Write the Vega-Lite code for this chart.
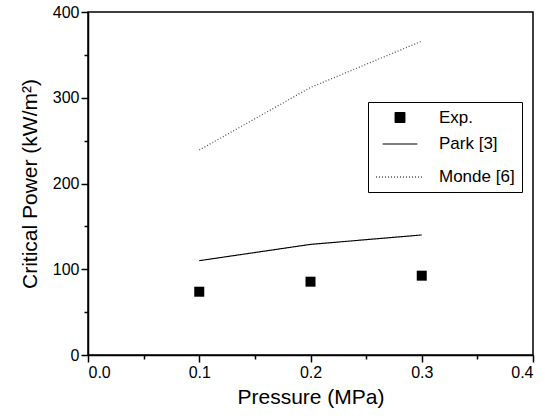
{
  "$schema": "https://vega.github.io/schema/vega-lite/v6.json",
  "width": 445,
  "height": 343,
  "autosize": {"type": "none"},
  "padding": {"left": 88, "top": 12, "right": 12, "bottom": 63},
  "background": "white",
  "config": {
    "view": {"stroke": "black", "strokeWidth": 1.5},
    "font": "Liberation Sans",
    "axis": {"labelFont": "Liberation Sans", "titleFont": "Liberation Sans", "labelColor": "black", "titleColor": "black", "tickColor": "black", "domainColor": "black", "grid": false, "titleFontWeight": "normal", "labelFontSize": 16, "titleFontSize": 21},
    "legend": {
      "orient": "none", "legendX": 280, "legendY": 90,
      "strokeColor": "black", "fillColor": "white",
      "padding": 7, "rowPadding": -7,
      "labelFontSize": 17, "labelFont": "Liberation Sans", "labelColor": "black",
      "labelOffset": 14
    }
  },
  "datasets": {
    "all": [
      {"p": 0.1, "v": 73.8, "s": "Exp."},
      {"p": 0.2, "v": 85.5, "s": "Exp."},
      {"p": 0.3, "v": 92.5, "s": "Exp."},
      {"p": 0.1, "v": 110, "s": "Park [3]"},
      {"p": 0.2, "v": 129, "s": "Park [3]"},
      {"p": 0.3, "v": 140, "s": "Park [3]"},
      {"p": 0.1, "v": 239, "s": "Monde [6]"},
      {"p": 0.2, "v": 312, "s": "Monde [6]"},
      {"p": 0.3, "v": 366, "s": "Monde [6]"}
    ]
  },
  "data": {"name": "all"},
  "encoding": {
    "x": {
      "field": "p", "type": "quantitative",
      "scale": {"domain": [0, 0.4], "nice": false},
      "axis": {
        "title": "Pressure (MPa)",
        "values": [0, 0.05, 0.1, 0.15, 0.2, 0.25, 0.3, 0.35, 0.4],
        "labelExpr": "abs(datum.value*10 - round(datum.value*10)) < 0.01 ? format(datum.value, '.1f') : ''",
        "tickSize": {"condition": {"test": "abs(datum.value*10 - round(datum.value*10)) < 0.01", "value": 7}, "value": 4},
        "domainWidth": 1.5, "tickWidth": 1.5,
        "labelPadding": 2, "titlePadding": 6
      }
    },
    "y": {
      "field": "v", "type": "quantitative",
      "scale": {"domain": [0, 400], "nice": false},
      "axis": {
        "title": "Critical Power (kW/m²)",
        "values": [0, 50, 100, 150, 200, 250, 300, 350, 400],
        "labelExpr": "datum.value % 100 == 0 ? datum.label : ''",
        "tickSize": {"condition": {"test": "datum.value % 100 == 0", "value": 7}, "value": 4},
        "domainWidth": 1.5, "tickWidth": 1.5,
        "labelPadding": 2, "titlePadding": 12
      }
    }
  },
  "layer": [
    {
      "transform": [{"filter": "datum.s != 'Exp.'"}],
      "mark": {"type": "line"},
      "encoding": {
        "detail": {"field": "s", "type": "nominal"},
        "strokeDash": {
          "field": "s", "type": "nominal",
          "scale": {"domain": ["Exp.", "Park [3]", "Monde [6]"], "range": [[1, 0], [1, 0], [1, 2]]},
          "legend": {"title": null}
        },
        "strokeWidth": {
          "field": "s", "type": "nominal",
          "scale": {"domain": ["Exp.", "Park [3]", "Monde [6]"], "range": [1, 1.3, 0.9]},
          "legend": {"title": null}
        },
        "color": {
          "field": "s", "type": "nominal",
          "scale": {"domain": ["Exp.", "Park [3]", "Monde [6]"], "range": ["black", "black", "#555555"]},
          "legend": {"title": null}
        }
      }
    },
    {
      "transform": [{"filter": "datum.s == 'Exp.'"}],
      "mark": {"type": "point", "filled": true, "opacity": 1},
      "encoding": {
        "shape": {
          "field": "s", "type": "nominal",
          "scale": {"domain": ["Exp.", "Park [3]", "Monde [6]"], "range": ["square", "stroke", "stroke"]},
          "legend": {"title": null}
        },
        "size": {
          "field": "s", "type": "nominal",
          "scale": {"domain": ["Exp.", "Park [3]", "Monde [6]"], "range": [100, 2304, 2304]},
          "legend": {"title": null}
        },
        "color": {
          "field": "s", "type": "nominal",
          "scale": {"domain": ["Exp.", "Park [3]", "Monde [6]"], "range": ["black", "black", "#555555"]},
          "legend": {"title": null}
        }
      }
    }
  ]
}
